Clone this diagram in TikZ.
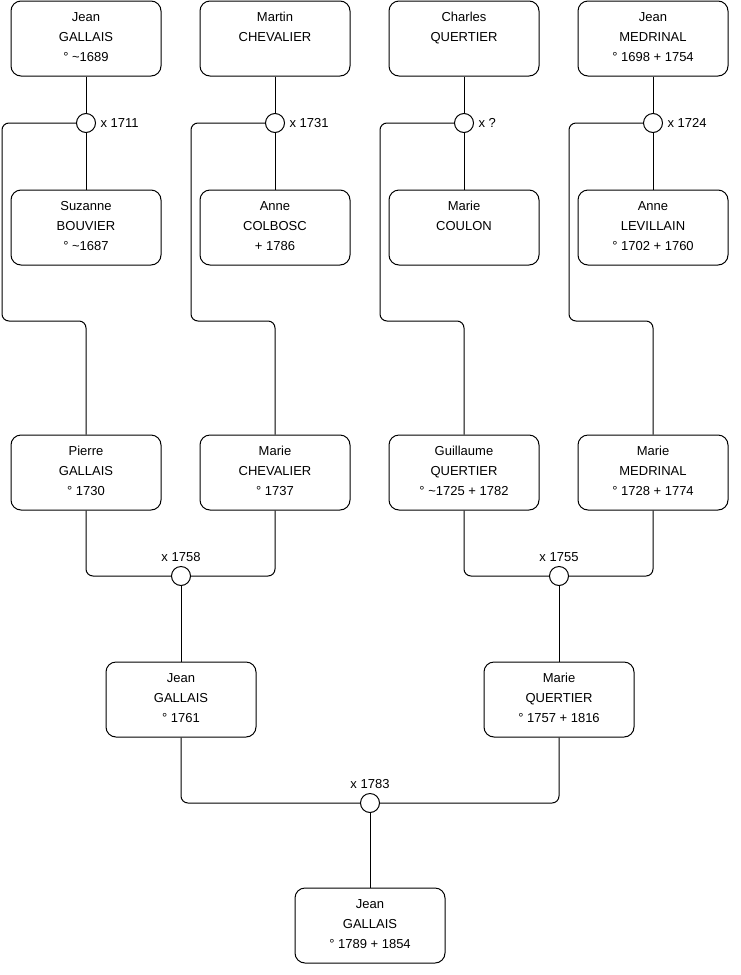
\documentclass[tikz,border=0pt]{standalone}
\usepackage{fontspec}
\setmainfont{Liberation Sans}

\begin{document}
\begin{tikzpicture}[
    x=1pt,
    y=-1pt,
    line width=1pt,
    person/.style={draw, rounded corners=10pt, minimum width=150pt, minimum height=75pt,
        inner sep=0pt, align=center, font=\fontsize{13}{20}\selectfont,
        execute at end node={\rule[-3.3pt]{0pt}{3.3pt}}},
    union/.style={draw, circle, fill=white, minimum size=19pt, inner sep=0pt},
    every label/.style={font=\fontsize{13}{15}\selectfont, inner sep=1pt},
    link/.style={rounded corners=7pt}
]
\useasboundingbox (0,0) rectangle (740,975);


% Generation 1
\node[person] (jean1689) at (86,38.5) {Jean\\GALLAIS\\° \textasciitilde1689};
\node[person] (martin) at (275,38.5) {Martin\\CHEVALIER\\};
\node[person] (charles) at (464,38.5) {Charles\\QUERTIER\\};
\node[person] (jean1698) at (653,38.5) {Jean\\MEDRINAL\\° 1698 + 1754};

\node[person] (suzanne) at (86,227.5) {Suzanne\\BOUVIER\\° \textasciitilde1687};
\node[person] (anne1786) at (275,227.5) {Anne\\COLBOSC\\+ 1786};
\node[person] (marieC) at (464,227.5) {Marie\\COULON\\};
\node[person] (anne1702) at (653,227.5) {Anne\\LEVILLAIN\\° 1702 + 1760};


% Generation 2
\node[person] (pierre) at (86,472.5) {Pierre\\GALLAIS\\° 1730};
\node[person] (marie1737) at (275,472.5) {Marie\\CHEVALIER\\° 1737};
\node[person] (guillaume) at (464,472.5) {Guillaume\\QUERTIER\\° \textasciitilde1725 + 1782};
\node[person] (marie1728) at (653,472.5) {Marie\\MEDRINAL\\° 1728 + 1774};


% Generation 3
\node[person] (jean1761) at (181,699.5) {Jean\\GALLAIS\\° 1761};
\node[person] (marie1757) at (559,699.5) {Marie\\QUERTIER\\° 1757 + 1816};


% Generation 4
\node[person] (jean1789) at (370,925.5) {Jean\\GALLAIS\\° 1789 + 1854};


% Marriages
\node[union, label={[label distance=3pt]right:x 1711}] (m1711) at (86,123) {};
\node[union, label={[label distance=3pt]right:x 1731}] (m1731) at (275,123) {};
\node[union, label={[label distance=3pt]right:x ?}] (mq) at (464,123) {};
\node[union, label={[label distance=3pt]right:x 1724}] (m1724) at (653,123) {};
\node[union, label={[label distance=3pt]above:x 1758}] (m1758) at (181,576) {};
\node[union, label={[label distance=3pt]above:x 1755}] (m1755) at (559,576) {};
\node[union, label={[label distance=3pt]above:x 1783}] (m1783) at (370,803) {};


% Couples
\draw (jean1689) -- (m1711);
\draw (m1711) -- (suzanne);
\draw (martin) -- (m1731);
\draw (m1731) -- (anne1786);
\draw (charles) -- (mq);
\draw (mq) -- (marieC);
\draw (jean1698) -- (m1724);
\draw (m1724) -- (anne1702);


% Children
\draw[link] (m1711) -- (2,123) |- (86,321) -- (pierre.north);
\draw[link] (m1731) -- (191,123) |- (275,321) -- (marie1737.north);
\draw[link] (mq) -- (380,123) |- (464,321) -- (guillaume.north);
\draw[link] (m1724) -- (569,123) |- (653,321) -- (marie1728.north);


\draw[link] (pierre) |- (m1758);
\draw[link] (marie1737) |- (m1758);
\draw (m1758) -- (jean1761);
\draw[link] (guillaume) |- (m1755);
\draw[link] (marie1728) |- (m1755);
\draw (m1755) -- (marie1757);


\draw[link] (jean1761) |- (m1783);
\draw[link] (marie1757) |- (m1783);
\draw (m1783) -- (jean1789);


\end{tikzpicture}
\end{document}
